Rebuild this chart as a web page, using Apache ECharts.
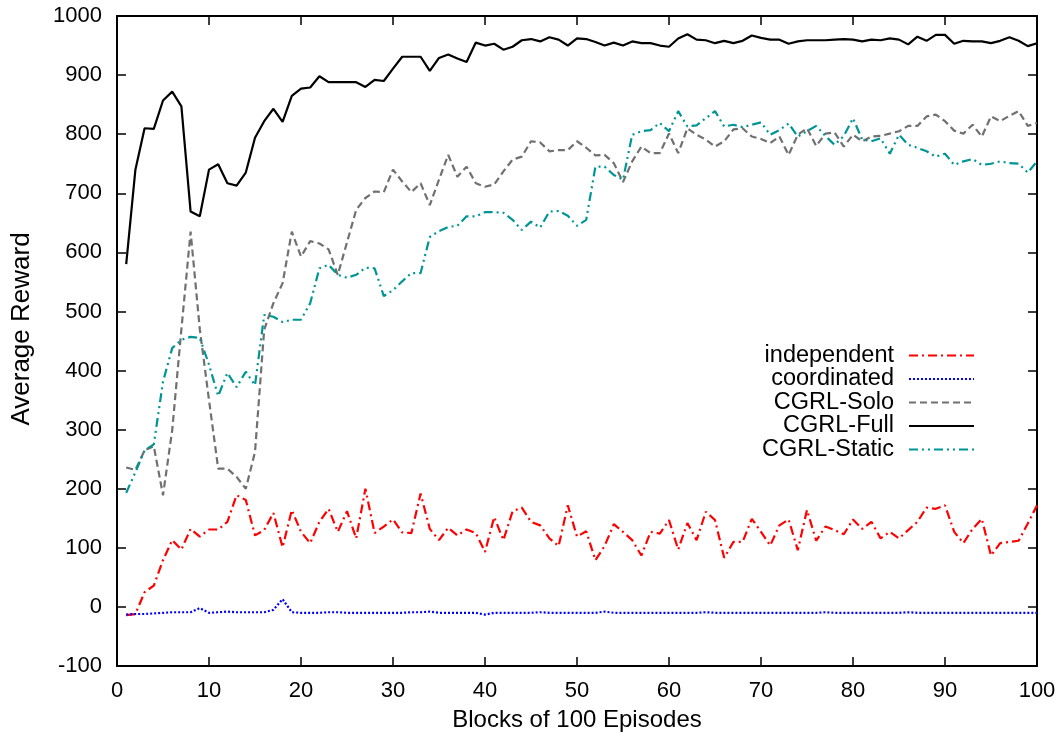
<!DOCTYPE html>
<html>
<head>
<meta charset="utf-8">
<script src="https://cdn.jsdelivr.net/npm/echarts@6/dist/echarts.min.js"></script>
<style>
  html, body { margin: 0; padding: 0; background: #fff; }
  #chart { width: 1064px; height: 744px; }
</style>
</head>
<body>
<div id="chart"></div>
<script>
// block index 1..100 (x axis)
const blocks = Array.from({ length: 100 }, (_, i) => i + 1);

const independent = [
  -14, -12, 25, 36, 79, 113, 97, 132, 119, 131,
  131, 144, 189, 181, 121, 130, 159, 101, 164, 127,
  108, 144, 166, 127, 162, 116, 200, 125, 136, 148,
  126, 125, 192, 132, 113, 134, 121, 131, 125, 93,
  152, 113, 162, 168, 144, 138, 116, 103, 172, 119,
  128, 79, 103, 140, 127, 113, 87, 127, 124, 147,
  97, 142, 113, 161, 147, 83, 110, 110, 149, 127,
  104, 138, 148, 96, 164, 112, 136, 130, 123, 148,
  132, 144, 116, 127, 116, 130, 144, 168, 166, 172,
  127, 108, 132, 149, 87, 108, 110, 112, 141, 172
];

const coordinated = [
  -13, -12, -12, -11, -10, -9, -9, -9, -2, -10,
  -9, -8, -9, -9, -9, -9, -5, 13, -9, -10,
  -10, -10, -9, -9, -10, -10, -10, -10, -10, -10,
  -10, -9, -9, -8, -10, -10, -10, -10, -10, -13,
  -10, -10, -10, -10, -10, -9, -10, -10, -10, -10,
  -10, -10, -8, -10, -10, -10, -10, -10, -10, -10,
  -10, -10, -10, -9, -10, -10, -10, -10, -10, -10,
  -10, -10, -10, -10, -10, -10, -9, -10, -10, -10,
  -10, -10, -10, -10, -10, -9, -10, -10, -10, -10,
  -10, -10, -10, -10, -10, -10, -10, -10, -10, -10
];

const cgrlSolo = [
  236, 232, 265, 272, 189, 299, 470, 635, 470, 350,
  234, 234, 220, 200, 262, 469, 514, 548, 635, 593,
  619, 615, 605, 562, 617, 672, 692, 703, 702, 740,
  720, 702, 717, 680, 723, 765, 728, 745, 717, 711,
  715, 737, 757, 762, 788, 786, 771, 773, 773, 788,
  777, 764, 765, 751, 719, 754, 779, 768, 768, 801,
  768, 810, 799, 791, 779, 788, 808, 810, 796, 792,
  785, 796, 765, 799, 810, 780, 801, 803, 779, 799,
  788, 796, 797, 801, 805, 814, 814, 830, 833, 822,
  806, 801, 816, 796, 830, 822, 831, 839, 814, 819
];

const cgrlFull = [
  580, 740, 810, 809, 857, 872, 847, 669, 661, 740,
  749, 717, 713, 735, 794, 822, 843, 821, 865, 877,
  879, 898, 888, 888, 888, 888, 880, 892, 890, 911,
  931, 931, 931, 907, 929, 935, 928, 922, 955, 950,
  953, 943, 948, 959, 961, 957, 964, 960, 950, 962,
  961, 956, 950, 955, 950, 957, 954, 954, 950, 948,
  962, 969, 960, 959, 954, 958, 954, 958, 967, 963,
  960, 960, 953, 957, 959, 959, 959, 960, 961, 960,
  957, 960, 959, 962, 960, 952, 965, 958, 968, 968,
  953, 958, 957, 957, 954, 958, 964, 958, 949, 954
];

const cgrlStatic = [
  193, 228, 265, 275, 381, 438, 452, 457, 455, 410,
  357, 396, 372, 398, 375, 494, 491, 482, 486, 486,
  514, 573, 579, 562, 557, 562, 574, 573, 526, 536,
  551, 565, 565, 626, 636, 643, 645, 661, 661, 668,
  668, 667, 655, 638, 652, 642, 669, 670, 662, 645,
  655, 745, 745, 731, 723, 799, 805, 807, 819, 805,
  839, 813, 815, 827, 839, 813, 816, 812, 816, 820,
  799, 807, 818, 796, 805, 814, 797, 782, 797, 827,
  791, 788, 793, 767, 799, 782, 777, 771, 762, 767,
  748, 754, 758, 748, 750, 754, 751, 750, 735, 754
];

const font = 'Liberation Sans, Arial, Helvetica, sans-serif';

const pairs = (vals) => blocks.map((b, i) => [b, vals[i]]);

const makeLine = (name, vals, color, dash) => ({
  name: name,
  type: 'line',
  data: pairs(vals),
  symbol: 'none',
  smooth: false,
  lineStyle: { color: color, width: 2.2, type: dash },
  itemStyle: { color: color },
  z: 3
});

const myChart = echarts.init(document.getElementById('chart'), null, { renderer: 'canvas' });

const tickStyle = () => ({ show: true, inside: true, length: 9, lineStyle: { color: '#000', width: 1.5 } });
const lineBox = () => ({ show: true, onZero: false, lineStyle: { color: '#000', width: 2 } });

const option = {
  animation: false,
  backgroundColor: '#fff',
  grid: { left: 117, right: 27, top: 16, bottom: 78, containLabel: false },
  legend: {
    orient: 'vertical',
    align: 'right',
    right: 89,
    top: 343.5,
    padding: 0,
    itemWidth: 65,
    itemHeight: 14,
    itemGap: -0.5,
    selectedMode: false,
    itemStyle: { opacity: 0 },
    textStyle: { fontFamily: font, fontSize: 23.5, color: '#000', padding: [0, 10, 0, 0] },
    data: ['independent', 'coordinated', 'CGRL-Solo', 'CGRL-Full', 'CGRL-Static']
  },
  xAxis: [
    {
      type: 'value',
      min: 0, max: 100, interval: 10,
      name: 'Blocks of 100 Episodes',
      nameLocation: 'middle',
      nameGap: 42,
      nameTextStyle: { fontFamily: font, fontSize: 24, color: '#000' },
      axisLine: lineBox(),
      axisTick: tickStyle(),
      splitLine: { show: false },
      axisLabel: { fontFamily: font, fontSize: 22, color: '#000', margin: 14 }
    },
    {
      type: 'value', position: 'top',
      min: 0, max: 100, interval: 10,
      axisLine: lineBox(),
      axisTick: tickStyle(),
      splitLine: { show: false },
      axisLabel: { show: false }
    }
  ],
  yAxis: [
    {
      type: 'value',
      min: -100, max: 1000, interval: 100,
      name: 'Average Reward',
      nameLocation: 'middle',
      nameGap: 82,
      nameRotate: 90,
      nameTextStyle: { fontFamily: font, fontSize: 26, color: '#000', padding: [0, 0, 0, 24] },
      axisLine: lineBox(),
      axisTick: tickStyle(),
      splitLine: { show: false },
      axisLabel: { fontFamily: font, fontSize: 22, color: '#000', margin: 15, formatter: (v) => String(v) }
    },
    {
      type: 'value', position: 'right',
      min: -100, max: 1000, interval: 100,
      axisLine: lineBox(),
      axisTick: tickStyle(),
      splitLine: { show: false },
      axisLabel: { show: false }
    }
  ],
  series: [
    makeLine('independent', independent, '#ff0000', [9, 4, 2, 4]),
    makeLine('coordinated', coordinated, '#0000ff', [2, 2]),
    makeLine('CGRL-Solo', cgrlSolo, '#707070', [7, 4]),
    makeLine('CGRL-Full', cgrlFull, '#000000', 'solid'),
    makeLine('CGRL-Static', cgrlStatic, '#009595', [9, 4, 2, 4, 2, 4])
  ]
};

myChart.setOption(option);
window.addEventListener('resize', myChart.resize);
</script>
</body>
</html>
